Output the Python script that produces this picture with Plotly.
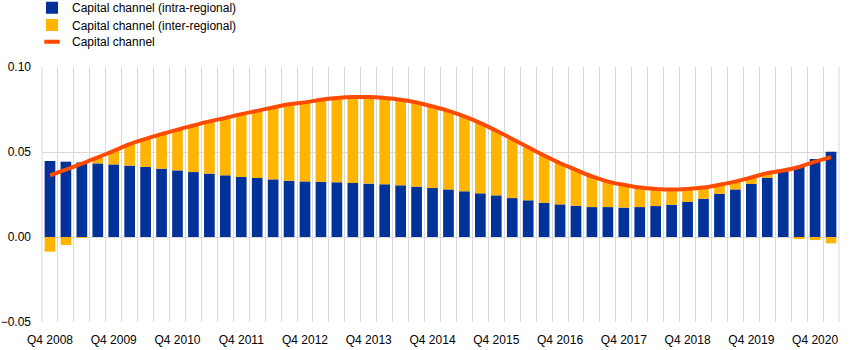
import plotly.graph_objects as go

# Quarters Q4 2008 .. Q1 2021
quarters = ["Q4 2008"] + [f"Q{q} {y}" for y in range(2009, 2021) for q in (1, 2, 3, 4)] + ["Q1 2021"]

intra_regional = [
    0.0447, 0.0443, 0.0439, 0.0433, 0.0427, 0.0420, 0.0412, 0.0402, 0.0392, 0.0382,
    0.0373, 0.0363, 0.0353, 0.0347, 0.0339, 0.0331, 0.0327, 0.0324, 0.0322, 0.0318,
    0.0314, 0.0310, 0.0304, 0.0296, 0.0288, 0.0280, 0.0269, 0.0257, 0.0245, 0.0229,
    0.0216, 0.0202, 0.0192, 0.0184, 0.0176, 0.0176, 0.0173, 0.0176, 0.0182, 0.0190,
    0.0206, 0.0225, 0.0253, 0.0280, 0.0312, 0.0347, 0.0384, 0.0414, 0.0459, 0.0502,
]
inter_regional = [
    -0.0086, -0.0047, -0.0005, 0.0034, 0.0079, 0.0125, 0.0164, 0.0202, 0.0239, 0.0273,
    0.0306, 0.0335, 0.0369, 0.0394, 0.0422, 0.0449, 0.0463, 0.0482, 0.0494, 0.0504,
    0.0508, 0.0506, 0.0502, 0.0494, 0.0479, 0.0461, 0.0439, 0.0412, 0.0379, 0.0347,
    0.0311, 0.0276, 0.0241, 0.0210, 0.0179, 0.0149, 0.0133, 0.0114, 0.0100, 0.0088,
    0.0076, 0.0065, 0.0053, 0.0045, 0.0037, 0.0028, 0.0006, -0.0008, -0.0018, -0.0037,
]
capital_channel = [
    0.0363, 0.0396, 0.0432, 0.0468, 0.0507, 0.0546, 0.0577, 0.0605, 0.0632, 0.0656,
    0.0680, 0.0700, 0.0723, 0.0742, 0.0762, 0.0781, 0.0792, 0.0807, 0.0817, 0.0823,
    0.0823, 0.0817, 0.0807, 0.0791, 0.0768, 0.0742, 0.0709, 0.0670, 0.0625, 0.0577,
    0.0528, 0.0479, 0.0434, 0.0395, 0.0356, 0.0326, 0.0307, 0.0291, 0.0283, 0.0279,
    0.0283, 0.0291, 0.0307, 0.0326, 0.0350, 0.0376, 0.0391, 0.0412, 0.0443, 0.0470,
]
y_ticks = [-0.05, 0.0, 0.05, 0.10]

n = len(quarters)
xpos = list(range(n))
label_idx = [i for i, q in enumerate(quarters) if q.startswith("Q4")]
label_txt = [quarters[i] for i in label_idx]

BLUE, YELLOW, ORANGE, GRID = "#003299", "#FFB400", "#FF4B00", "#d9d9d9"

fig = go.Figure()
fig.add_trace(go.Bar(x=xpos, y=intra_regional, name="Capital channel (intra-regional)",
                     marker=dict(color=BLUE, line=dict(width=0)), legend="legend",
                     hovertext=quarters))
fig.add_trace(go.Bar(x=xpos, y=inter_regional, name="Capital channel (inter-regional)",
                     marker=dict(color=YELLOW, line=dict(width=0)), legend="legend2",
                     hovertext=quarters))
fig.add_trace(go.Scatter(x=xpos, y=capital_channel, name="Capital channel", mode="lines",
                         line=dict(color=ORANGE, width=4, shape="spline"), showlegend=False,
                         hovertext=quarters))
# legend entry for the line (short thick dash like the reference)
fig.add_trace(go.Scatter(x=[None], y=[None], name="Capital channel", mode="markers",
                         marker=dict(symbol="line-ew", size=11, color=ORANGE,
                                     line=dict(width=4, color=ORANGE)),
                         legend="legend3", showlegend=True))

plot_h = 350 - 67 - 28
def ly(pix):
    return (350 - 28 - pix) / plot_h

lx = (32 - 42) / 797
leg_common = dict(x=lx, xanchor="left", yanchor="middle", bgcolor="rgba(0,0,0,0)",
                  font=dict(size=12, color="#000000"), borderwidth=0)

fig.update_layout(
    width=868, height=350,
    margin=dict(l=42, r=29, t=67, b=28, autoexpand=False),
    paper_bgcolor="white", plot_bgcolor="white",
    barmode="relative", bargap=0.33,
    font=dict(family="Liberation Sans, Arial, sans-serif", size=12, color="#000000"),
    legend=dict(y=ly(7.7), **leg_common),
    legend2=dict(y=ly(25), **leg_common),
    legend3=dict(y=ly(41.7), **leg_common),
    showlegend=True,
)
fig.update_xaxes(
    range=[-0.5, n - 0.5], tickmode="array", tickvals=label_idx, ticktext=label_txt,
    ticks="", showgrid=False, showline=False, zeroline=False, tickangle=0,
    ticklabelstandoff=9,
    minor=dict(tickmode="linear", tick0=-0.5, dtick=1, showgrid=True, gridcolor=GRID,
               gridwidth=1, ticks=""),
)
fig.update_yaxes(
    range=[y_ticks[0], y_ticks[-1]], tickvals=y_ticks, tickformat=".2f",
    showgrid=True, gridcolor=GRID, gridwidth=1, zeroline=True, zerolinecolor=GRID,
    zerolinewidth=1, ticks="", ticklabelstandoff=10,
)
for xe in (0, 1):
    fig.add_shape(type="line", xref="paper", yref="paper", x0=xe, x1=xe, y0=0, y1=1,
                  line=dict(color=GRID, width=1), layer="below")
fig.write_html("out.html")
